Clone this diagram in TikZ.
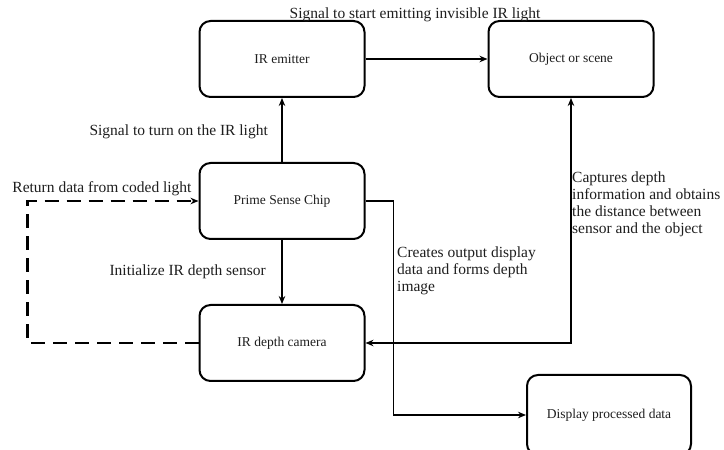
\documentclass[tikz,border=0pt]{standalone}
\usepackage{fontspec}
\setmainfont{Liberation Serif}
\usepackage{tikz}
\usetikzlibrary{arrows.meta, positioning}
\definecolor{boxline}{RGB}{0,0,0}
\definecolor{textgray}{RGB}{30,30,30}
\tikzset{
  procbox/.style={
    draw=boxline, fill=white, line width=2pt,
    rounded corners=11pt, minimum width=165pt,
    minimum height=76pt, align=center,
    font=\fontsize{13.5}{15}\selectfont\color{textgray}
  },
  sigarrow/.style={
    -{Stealth[length=8pt,width=6.5pt]},
    draw=boxline, line width=1.8pt
  },
  biarrow/.style={
    {Stealth[length=8pt,width=6.5pt]}-{Stealth[length=8pt,width=6.5pt]},
    draw=boxline, line width=1.8pt
  },
  returnarrow/.style={
    -{Stealth[length=8pt,width=6.5pt]},
    draw=boxline, line width=2.2pt, dash pattern=on 14pt off 8pt
  },
  siglabel/.style={
    font=\fontsize{15.5}{17}\selectfont\color{textgray},
    inner sep=0pt
  },
  sigtext/.style={
    font=\fontsize{15.5}{17}\selectfont\color{textgray},
    inner sep=0pt, align=left
  },
}
\begin{document}
\begin{tikzpicture}[x=1pt, y=1pt]
    \useasboundingbox (0,0) rectangle (724,450);

    %% Boxes
    \node[procbox] (chip) at (282,249) {Prime Sense Chip};
    \node[procbox, above=64pt of chip] (emit) {IR emitter};
    \node[procbox, below=64pt of chip] (cam) {IR depth camera};
    \node[procbox, right=122pt of emit] (obj) {Object or scene};
    \node[procbox, minimum width=164pt, minimum height=80pt] (disp) at (609,35)
      {Display processed data};

    %% Connectors
    \draw[sigarrow] (emit.east) -- (obj.west);
    \draw[sigarrow] (chip.north) -- (emit.south);
    \draw[sigarrow] (chip.south) -- (cam.north);
    \draw[sigarrow] (chip.east) -- ++(28pt,0) |- (disp.west);
    \draw[biarrow] (cam.east) -| (obj.south);
    \draw[returnarrow] (cam.west) -- ++(-171pt,0) |- (chip.west);

    %% Labels
    \node[siglabel] (lstart) at (415,435)
      {Signal to start emitting invisible IR light};
    \node[siglabel, anchor=east] (lturn) at (268,318)
      {Signal to turn on the IR light};
    \node[siglabel] (lreturn) at (102,261)
      {Return data from coded light};
    \node[siglabel, anchor=east] (linit) at (266,178)
      {Initialize IR depth sensor};
    \node[sigtext, anchor=north west] (lcreate) at (397,203)
      {Creates output display\\data and forms depth\\image};
    \node[sigtext, anchor=north west] (lcapture) at (572,278)
      {Captures depth\\information and obtains\\the distance between\\sensor and the object};

  \end{tikzpicture}
\end{document}
